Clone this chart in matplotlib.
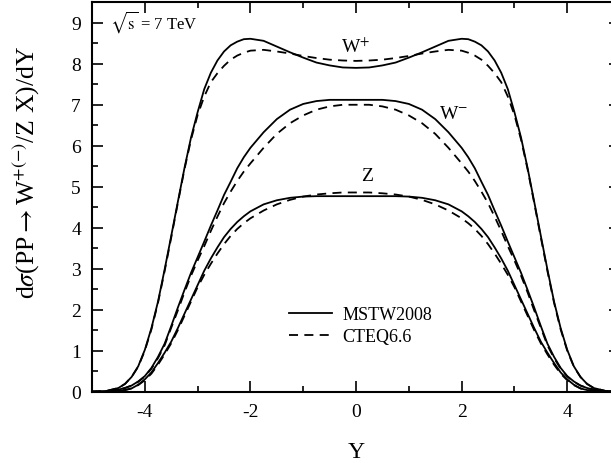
import matplotlib
matplotlib.use("Agg")
import matplotlib.pyplot as plt
from matplotlib.ticker import MultipleLocator

plt.rcParams['font.family'] = ['Liberation Serif', 'DejaVu Serif']
plt.rcParams['mathtext.fontset'] = 'stix'
plt.rcParams['axes.unicode_minus'] = False

# rapidity grid (denser where the curves bend)
Y = [-5.0, -4.75, -4.5, -4.375, -4.25, -4.125, -4.0, -3.875, -3.75, -3.625,
     -3.5, -3.375, -3.25, -3.125, -3.0, -2.875, -2.75, -2.625, -2.5, -2.375,
     -2.25, -2.125, -2.0, -1.75, -1.5, -1.25, -1.0, -0.75, -0.5, -0.25,
     0.0,
     0.25, 0.5, 0.75, 1.0, 1.25, 1.5, 1.75, 2.0, 2.125, 2.25,
     2.375, 2.5, 2.625, 2.75, 2.875, 3.0, 3.125, 3.25, 3.375, 3.5,
     3.625, 3.75, 3.875, 4.0, 4.125, 4.25, 4.375, 4.5, 4.75, 5.0]

# W+ cross section
wp_mstw = [0.0, 0.01, 0.09, 0.19, 0.36, 0.62, 1.02, 1.55, 2.2, 2.98,
           3.8, 4.63, 5.45, 6.2, 6.82, 7.38, 7.78, 8.08, 8.3, 8.45,
           8.54, 8.6, 8.61, 8.56, 8.42, 8.28, 8.15, 8.03, 7.96, 7.91,
           7.9,
           7.91, 7.96, 8.03, 8.15, 8.28, 8.42, 8.56, 8.61, 8.6, 8.54,
           8.45, 8.3, 8.08, 7.78, 7.38, 6.82, 6.2, 5.45, 4.63, 3.8,
           2.98, 2.2, 1.55, 1.02, 0.62, 0.36, 0.19, 0.09, 0.01, 0.0]
wp_cteq = [0.0, 0.01, 0.09, 0.19, 0.36, 0.61, 1.0, 1.52, 2.17, 2.94,
           3.76, 4.6, 5.42, 6.15, 6.75, 7.2, 7.55, 7.77, 7.95, 8.1,
           8.2, 8.27, 8.32, 8.34, 8.3, 8.25, 8.19, 8.14, 8.1, 8.08,
           8.07,
           8.08, 8.1, 8.14, 8.19, 8.25, 8.3, 8.34, 8.32, 8.27, 8.2,
           8.1, 7.95, 7.77, 7.55, 7.2, 6.75, 6.15, 5.42, 4.6, 3.76,
           2.94, 2.17, 1.52, 1.0, 0.61, 0.36, 0.19, 0.09, 0.01, 0.0]

# W- cross section
wm_mstw = [0.0, 0.01, 0.05, 0.09, 0.15, 0.25, 0.38, 0.58, 0.85, 1.17,
           1.6, 2.05, 2.48, 2.9, 3.28, 3.66, 4.05, 4.42, 4.8, 5.12,
           5.45, 5.72, 5.95, 6.33, 6.65, 6.88, 7.02, 7.09, 7.12, 7.12,
           7.12,
           7.12, 7.12, 7.09, 7.02, 6.88, 6.65, 6.33, 5.95, 5.72, 5.45,
           5.12, 4.8, 4.42, 4.05, 3.66, 3.28, 2.9, 2.48, 2.05, 1.6,
           1.17, 0.85, 0.58, 0.38, 0.25, 0.15, 0.09, 0.05, 0.01, 0.0]
wm_cteq = [0.0, 0.01, 0.05, 0.09, 0.15, 0.24, 0.37, 0.56, 0.82, 1.13,
           1.56, 1.98, 2.42, 2.83, 3.2, 3.55, 3.92, 4.27, 4.6, 4.88,
           5.14, 5.37, 5.57, 5.95, 6.29, 6.55, 6.74, 6.88, 6.96, 7.0,
           7.0,
           7.0, 6.96, 6.88, 6.74, 6.55, 6.29, 5.95, 5.57, 5.37, 5.14,
           4.88, 4.6, 4.27, 3.92, 3.55, 3.2, 2.83, 2.42, 1.98, 1.56,
           1.13, 0.82, 0.56, 0.37, 0.24, 0.15, 0.09, 0.05, 0.01, 0.0]

# Z cross section
z_mstw = [0.0, 0.0, 0.02, 0.04, 0.08, 0.17, 0.3, 0.47, 0.7, 0.95,
          1.22, 1.55, 1.9, 2.25, 2.6, 2.95, 3.25, 3.52, 3.77, 3.97,
          4.14, 4.28, 4.4, 4.57, 4.67, 4.73, 4.76, 4.77, 4.77, 4.77,
          4.77,
          4.77, 4.77, 4.77, 4.76, 4.73, 4.67, 4.57, 4.4, 4.28, 4.14,
          3.97, 3.77, 3.52, 3.25, 2.95, 2.6, 2.25, 1.9, 1.55, 1.22,
          0.95, 0.7, 0.47, 0.3, 0.17, 0.08, 0.04, 0.02, 0.0, 0.0]
z_cteq = [0.0, 0.0, 0.02, 0.04, 0.08, 0.16, 0.28, 0.44, 0.66, 0.91,
          1.18, 1.5, 1.85, 2.2, 2.55, 2.85, 3.12, 3.37, 3.6, 3.8,
          3.97, 4.11, 4.23, 4.42, 4.57, 4.68, 4.76, 4.81, 4.84, 4.86,
          4.86,
          4.86, 4.84, 4.81, 4.76, 4.68, 4.57, 4.42, 4.23, 4.11, 3.97,
          3.8, 3.6, 3.37, 3.12, 2.85, 2.55, 2.2, 1.85, 1.5, 1.18,
          0.91, 0.66, 0.44, 0.28, 0.16, 0.08, 0.04, 0.02, 0.0, 0.0]

fig = plt.figure(figsize=(6.11, 4.64), dpi=100)
# right edge of the frame runs slightly past the canvas
ax = fig.add_axes([0.1506, 0.1537, 0.8642, 0.8392])

lw = 1.3
dash = (0, (5, 3.5))
ax.plot(Y, wp_mstw, color='black', lw=lw, label='MSTW2008')
ax.plot(Y, wp_cteq, color='black', lw=lw, linestyle=dash, label='CTEQ6.6')
ax.plot(Y, wm_mstw, color='black', lw=lw)
ax.plot(Y, wm_cteq, color='black', lw=lw, linestyle=dash)
ax.plot(Y, z_mstw, color='black', lw=lw)
ax.plot(Y, z_cteq, color='black', lw=lw, linestyle=dash)

ax.set_xlim(-5, 5)
ax.set_ylim(0, 9.5)
ax.xaxis.set_major_locator(MultipleLocator(2))
ax.xaxis.set_minor_locator(MultipleLocator(1))
ax.yaxis.set_major_locator(MultipleLocator(1))
ax.yaxis.set_minor_locator(MultipleLocator(0.5))
ax.tick_params(which='both', direction='in', top=True, right=True,
               width=1.2, labelsize=14)
ax.tick_params(which='major', length=8, pad=8)
ax.tick_params(which='minor', length=4)
for sp in ax.spines.values():
    sp.set_linewidth(1.5)

ax.set_xlabel('Y', fontsize=17, labelpad=15)
ax.set_ylabel(r'd$\sigma$(PP$\rightarrow$W$^{+(-)}$/Z X)/dY', fontsize=18.5)
ax.yaxis.set_label_coords(-0.095, 0.567)

ax.text(-4.65, 9.05, r'$\sqrt{\rm s}$ = 7 TeV', fontsize=12, va='center')
ax.text(0.0, 8.44, r'W$^{+}$', fontsize=14, ha='center', va='center')
ax.text(1.85, 6.78, r'W$^{-}$', fontsize=14, ha='center', va='center')
ax.text(0.2, 5.27, 'Z', fontsize=14, ha='center', va='center')

ax.legend(loc='upper left', bbox_to_anchor=(0.373, 0.219), frameon=False,
          fontsize=13, handlelength=2.4, handletextpad=0.55,
          borderaxespad=0, borderpad=0, labelspacing=0.25)

fig.savefig('out.png', dpi=100)
